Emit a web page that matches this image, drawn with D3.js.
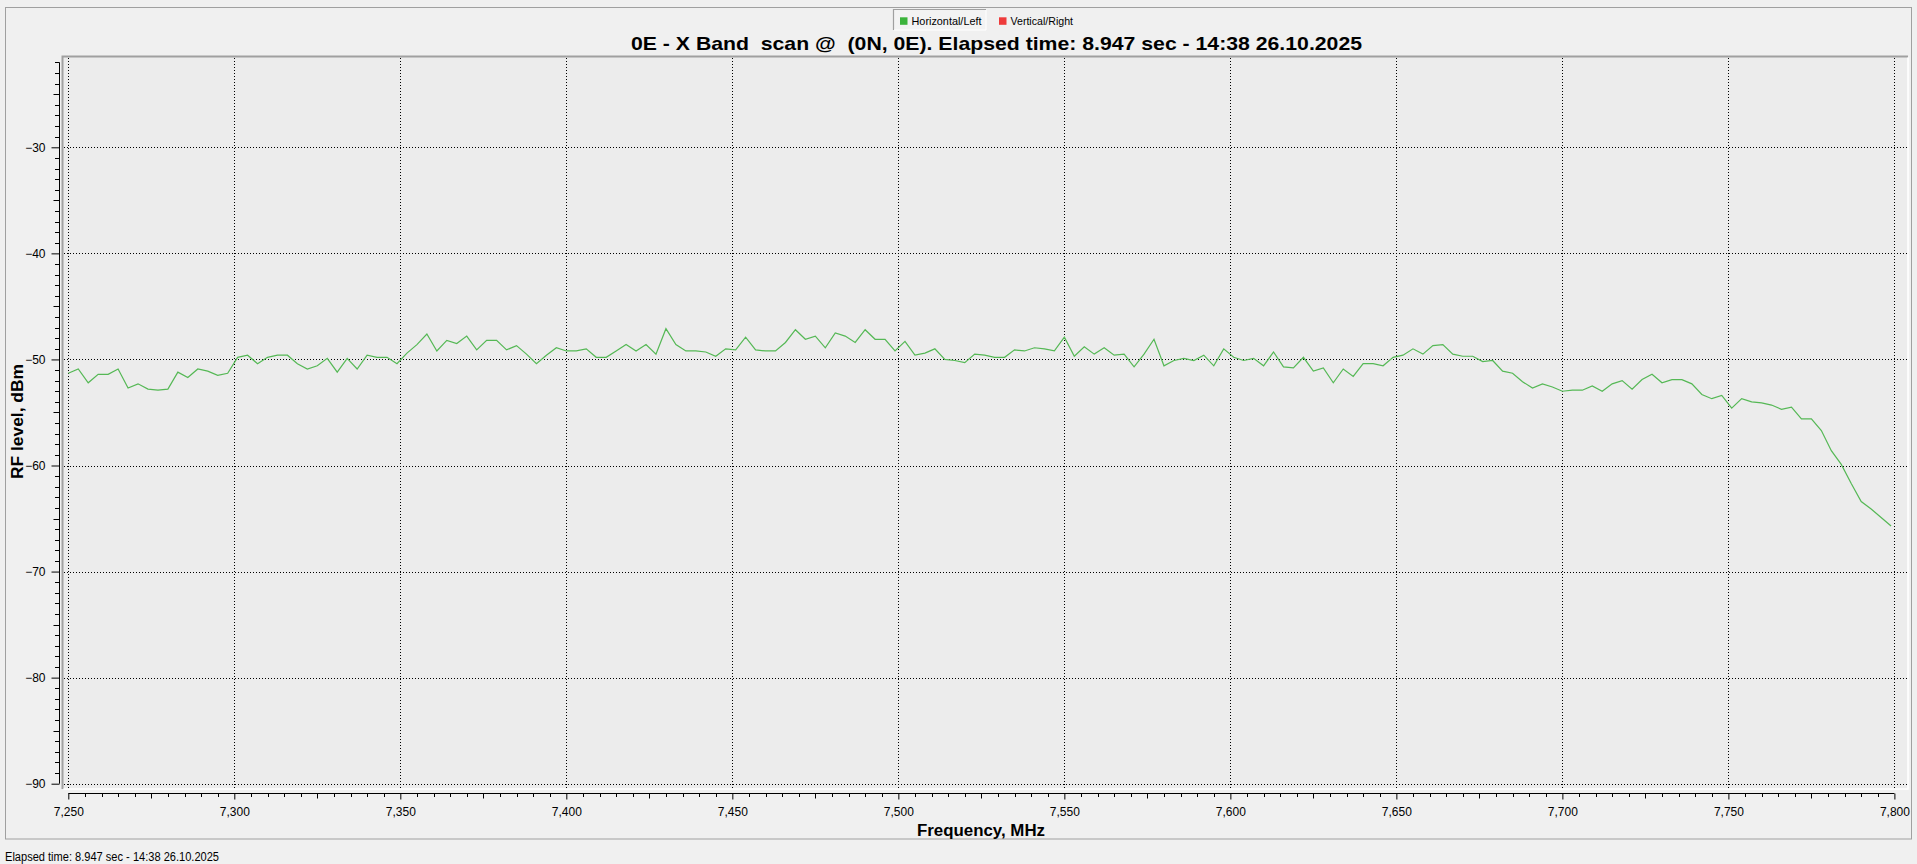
<!DOCTYPE html>
<html>
<head>
<meta charset="utf-8">
<script src="https://cdn.jsdelivr.net/npm/d3@7/dist/d3.min.js"></script>
<style>
  html, body { margin: 0; padding: 0; background: #f0f0f0; overflow: hidden; }
  svg { display: block; }
  text { font-family: "Liberation Sans", Arial, sans-serif; }
</style>
</head>
<body>
<svg id="chart" width="1917" height="864"></svg>
<script>
// ---------------- DATA ----------------
const titleText = "0E - X Band  scan @  (0N, 0E). Elapsed time: 8.947 sec - 14:38 26.10.2025";
const statusText = "Elapsed time: 8.947 sec - 14:38 26.10.2025";
const xAxisTitle = "Frequency, MHz";
const yAxisTitle = "RF level, dBm";
const legendLabels = ["Horizontal/Left", "Vertical/Right"];
const legendColors = ["#3cb43c", "#ee3b3b"];

const xTicks = [7250, 7300, 7350, 7400, 7450, 7500, 7550, 7600, 7650, 7700, 7750, 7800];
const yTicks = [-30, -40, -50, -60, -70, -80, -90];

const frequencies = [
  7250,7253,7256,7259,7262,7265,7268,7271,7274,7277,
  7280,7283,7286,7289,7292,7295,7298,7301,7304,7307,
  7310,7313,7316,7319,7322,7325,7328,7331,7334,7337,
  7340,7343,7346,7349,7352,7355,7358,7361,7364,7367,
  7370,7373,7376,7379,7382,7385,7388,7391,7394,7397,
  7400,7403,7406,7409,7412,7415,7418,7421,7424,7427,
  7430,7433,7436,7439,7442,7445,7448,7451,7454,7457,
  7460,7463,7466,7469,7472,7475,7478,7481,7484,7487,
  7490,7493,7496,7499,7502,7505,7508,7511,7514,7517,
  7520,7523,7526,7529,7532,7535,7538,7541,7544,7547,
  7550,7553,7556,7559,7562,7565,7568,7571,7574,7577,
  7580,7583,7586,7589,7592,7595,7598,7601,7604,7607,
  7610,7613,7616,7619,7622,7625,7628,7631,7634,7637,
  7640,7643,7646,7649,7652,7655,7658,7661,7664,7667,
  7670,7673,7676,7679,7682,7685,7688,7691,7694,7697,
  7700,7703,7706,7709,7712,7715,7718,7721,7724,7727,
  7730,7733,7736,7739,7742,7745,7748,7751,7754,7757,
  7760,7763,7766,7769,7772,7775,7778,7781,7784,7787,
  7790,7793,7796,7799
];

const levelsHorizontal = [
  -51.3,-50.9,-52.2,-51.4,-51.4,-50.9,-52.7,-52.3,-52.8,-52.9,
  -52.8,-51.2,-51.7,-50.9,-51.1,-51.5,-51.3,-49.8,-49.6,-50.4,
  -49.8,-49.6,-49.6,-50.4,-50.9,-50.6,-49.9,-51.2,-49.9,-50.9,
  -49.6,-49.8,-49.8,-50.4,-49.4,-48.6,-47.6,-49.2,-48.2,-48.5,
  -47.8,-49.1,-48.2,-48.2,-49.1,-48.7,-49.5,-50.4,-49.6,-48.9,
  -49.2,-49.2,-49.0,-49.8,-49.8,-49.2,-48.6,-49.2,-48.6,-49.5,
  -47.1,-48.6,-49.2,-49.2,-49.3,-49.7,-49.0,-49.1,-47.9,-49.1,
  -49.2,-49.2,-48.4,-47.2,-48.1,-47.8,-48.9,-47.5,-47.8,-48.4,
  -47.2,-48.1,-48.1,-49.2,-48.3,-49.6,-49.4,-49.0,-50.0,-50.1,
  -50.3,-49.5,-49.6,-49.8,-49.8,-49.1,-49.2,-48.9,-49.0,-49.2,
  -47.9,-49.7,-48.8,-49.5,-48.9,-49.6,-49.5,-50.7,-49.5,-48.1,
  -50.6,-50.1,-49.9,-50.1,-49.6,-50.6,-49.0,-49.8,-50.1,-49.9,
  -50.6,-49.3,-50.7,-50.8,-49.8,-51.1,-50.8,-52.2,-50.9,-51.6,
  -50.4,-50.4,-50.6,-49.8,-49.6,-49.0,-49.5,-48.7,-48.6,-49.5,
  -49.7,-49.7,-50.2,-50.1,-51.1,-51.3,-52.1,-52.7,-52.3,-52.6,
  -53.0,-52.9,-52.9,-52.5,-53.0,-52.3,-52.0,-52.8,-51.9,-51.4,
  -52.2,-51.9,-51.9,-52.3,-53.3,-53.7,-53.4,-54.6,-53.7,-54.0,
  -54.1,-54.3,-54.7,-54.5,-55.6,-55.6,-56.7,-58.6,-59.9,-61.7,
  -63.4,-64.1,-64.9,-65.7
];

// ---------------- LAYOUT ----------------
const svg = d3.select("#chart");
const canvas = { x0: 62.5, y0: 56.5, x1: 1908, y1: 789 };

const x = d3.scaleLinear().domain([7250, 7800]).range([68.3, 1894.4]);
const y = d3.scaleLinear().domain([-30, -90]).range([147.3, 783.7]);

// outer panel
svg.append("rect").attr("x", 5.5).attr("y", 7.5).attr("width", 1906).attr("height", 831.5)
  .attr("fill", "#f0f0f0").attr("stroke", "#a0a0a0").attr("stroke-width", 1);

// plot canvas (sunken frame)
svg.append("rect").attr("x", canvas.x0).attr("y", canvas.y0)
  .attr("width", canvas.x1 - canvas.x0).attr("height", canvas.y1 - canvas.y0)
  .attr("fill", "#ececec");
svg.append("path")
  .attr("d", `M${canvas.x0},${canvas.y1} V${canvas.y0} H${canvas.x1}`)
  .attr("fill", "none").attr("stroke", "#a0a0a0").attr("stroke-width", 2);
svg.append("path")
  .attr("d", `M${canvas.x0 + 1},${canvas.y1} H${canvas.x1} V${canvas.y0 + 1}`)
  .attr("fill", "none").attr("stroke", "#ffffff").attr("stroke-width", 1.5);

// grid
const grid = svg.append("g").attr("stroke", "#000").attr("stroke-width", 1)
  .attr("stroke-dasharray", "1,2").attr("shape-rendering", "crispEdges");
grid.selectAll("line.v").data(xTicks).join("line")
  .attr("x1", d => Math.round(x(d)) + 0.5).attr("x2", d => Math.round(x(d)) + 0.5)
  .attr("y1", canvas.y0 + 1).attr("y2", canvas.y1 - 1);
grid.selectAll("line.h").data(yTicks).join("line")
  .attr("y1", d => Math.round(y(d)) + 0.5).attr("y2", d => Math.round(y(d)) + 0.5)
  .attr("x1", canvas.x0 + 1).attr("x2", canvas.x1 - 1);

// data line
const data = frequencies.map((f, i) => ({ f, v: levelsHorizontal[i] }));
svg.append("path").datum(data)
  .attr("fill", "none").attr("stroke", "#55b855").attr("stroke-width", 1.2)
  .attr("d", d3.line().x(d => x(d.f)).y(d => y(d.v)));

// ---------------- AXES ----------------
const yMinor = d3.range(-90, -21, 1).filter(v => v % 10 !== 0);
const yAxisG = svg.append("g").attr("transform", "translate(59.5,0)");
yAxisG.append("line").attr("x1", 0).attr("x2", 0)
  .attr("y1", y(-22)).attr("y2", y(-90)).attr("stroke", "#000");
yAxisG.selectAll("line.minor").data(yMinor).join("line")
  .attr("x1", d => (Math.abs(d) % 5 === 0) ? -6 : -4.5).attr("x2", 0)
  .attr("y1", d => Math.round(y(d)) + 0.5).attr("y2", d => Math.round(y(d)) + 0.5)
  .attr("stroke", "#000");
const yAx = d3.axisLeft(y).tickValues(yTicks).tickSize(8).tickPadding(6).tickFormat(d3.format("d"));
const yAxG2 = yAxisG.append("g").call(yAx);
yAxG2.select(".domain").remove();
yAxG2.selectAll(".tick line").attr("stroke", "#000");
yAxG2.selectAll(".tick text").attr("font-family", "Liberation Sans, Arial, sans-serif")
  .attr("font-size", 12).attr("fill", "#000");

const xMinor = d3.range(7250, 7801, 5).filter(v => v % 50 !== 0);
const xAxisG = svg.append("g").attr("transform", "translate(0,793.5)");
xAxisG.append("line").attr("x1", x(7250)).attr("x2", x(7800)).attr("y1", 0).attr("y2", 0).attr("stroke", "#000");
xAxisG.selectAll("line.minor").data(xMinor).join("line")
  .attr("x1", d => Math.round(x(d)) + 0.5).attr("x2", d => Math.round(x(d)) + 0.5)
  .attr("y1", 0).attr("y2", d => (d % 25 === 0) ? 5 : 3.5).attr("stroke", "#000");
const xAx = d3.axisBottom(x).tickValues(xTicks).tickSize(6).tickPadding(8).tickFormat(d3.format(",d"));
const xAxG2 = xAxisG.append("g").call(xAx);
xAxG2.select(".domain").remove();
xAxG2.selectAll(".tick line").attr("stroke", "#000");
xAxG2.selectAll(".tick text").attr("font-family", "Liberation Sans, Arial, sans-serif")
  .attr("font-size", 12).attr("fill", "#000");

// ---------------- TEXTS ----------------
svg.append("text").attr("x", 996.5).attr("y", 49.5).attr("text-anchor", "middle")
  .attr("font-size", 19).attr("font-weight", "bold").attr("fill", "#000")
  .attr("xml:space", "preserve").style("white-space", "pre")
  .attr("textLength", 731).attr("lengthAdjust", "spacingAndGlyphs")
  .text(titleText);

svg.append("text").attr("x", 981).attr("y", 836).attr("text-anchor", "middle")
  .attr("font-size", 16).attr("font-weight", "bold").attr("fill", "#000")
  .attr("textLength", 128).attr("lengthAdjust", "spacingAndGlyphs")
  .text(xAxisTitle);

svg.append("text").attr("transform", "translate(22.5,421.5) rotate(-90)").attr("text-anchor", "middle")
  .attr("font-size", 16).attr("font-weight", "bold").attr("fill", "#000")
  .attr("textLength", 115).attr("lengthAdjust", "spacingAndGlyphs")
  .text(yAxisTitle);

svg.append("text").attr("x", 5).attr("y", 860.5)
  .attr("font-size", 12).attr("fill", "#000")
  .attr("textLength", 214).attr("lengthAdjust", "spacingAndGlyphs")
  .text(statusText);

// ---------------- LEGEND ----------------
const lg = svg.append("g");
lg.append("rect").attr("x", 893.5).attr("y", 9.5).attr("width", 92.5).attr("height", 20.5)
  .attr("fill", "#f3f3f3").attr("stroke", "none");
lg.append("path").attr("d", "M893.5,30 V9.5 H986").attr("fill", "none").attr("stroke", "#a0a0a0").attr("stroke-width", 1.2);
lg.append("path").attr("d", "M894,30 H986 V10").attr("fill", "none").attr("stroke", "#ffffff").attr("stroke-width", 1);
const legendItems = [
  { label: legendLabels[0], color: legendColors[0], sx: 900, tx: 911.5, tw: 70 },
  { label: legendLabels[1], color: legendColors[1], sx: 999, tx: 1010.5, tw: 62.5 }
];
legendItems.forEach(it => {
  lg.append("rect").attr("x", it.sx).attr("y", 17.3).attr("width", 7.5).attr("height", 7.5).attr("fill", it.color);
  lg.append("text").attr("x", it.tx).attr("y", 25).attr("font-size", 11).attr("fill", "#000")
    .attr("textLength", it.tw).attr("lengthAdjust", "spacingAndGlyphs").text(it.label);
});
</script>
</body>
</html>
